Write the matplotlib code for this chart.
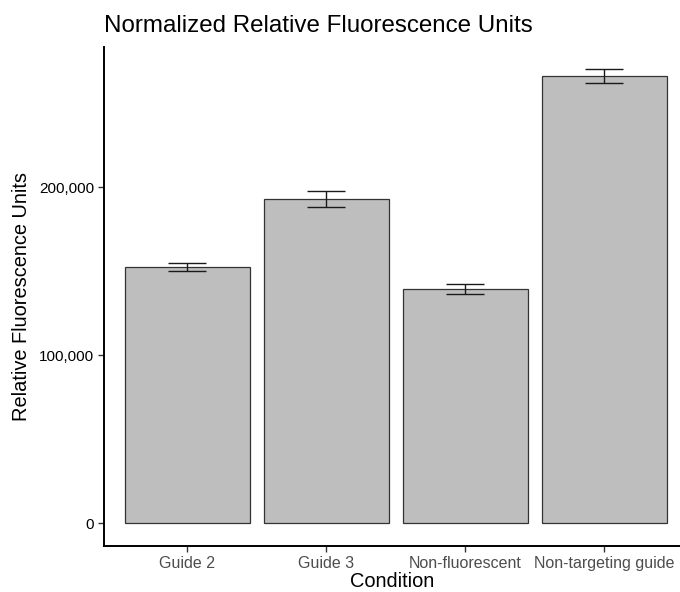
import matplotlib
matplotlib.use("Agg")
import matplotlib.pyplot as plt
from matplotlib.ticker import FuncFormatter

plt.rcParams['font.family'] = ['Liberation Sans', 'DejaVu Sans']

categories = ["Guide 2", "Guide 3", "Non-fluorescent", "Non-targeting guide"]
means = [152400, 192900, 139300, 266300]
errors = [2500, 4750, 3050, 4250]
yticks = [0, 100000, 200000]

fig = plt.figure(figsize=(6.8, 5.92), dpi=100)
ax = fig.add_axes([104/680, 1 - 546/592, (680 - 104)/680, (546 - 47)/592])

x = list(range(1, len(categories) + 1))
ax.bar(x, means, width=0.9, color="#BEBEBE", edgecolor="#333333", linewidth=0.9, zorder=2)
ax.errorbar(x, means, yerr=errors, fmt="none", ecolor="#1a1a1a", elinewidth=1.0,
            capsize=13.5, capthick=1.0, zorder=3)

ax.set_xlim(0.4, 0.4 + 576/139)
ax.set_ylim(-13500, 283500)
ax.set_xticks(x)
ax.set_xticklabels(categories)
ax.set_yticks(yticks)
ax.yaxis.set_major_formatter(FuncFormatter(lambda v, p: f"{int(v):,}"))

for s in ["top", "right"]:
    ax.spines[s].set_visible(False)
for s in ["left", "bottom"]:
    ax.spines[s].set_linewidth(1.4)
    ax.spines[s].set_color("black")
ax.tick_params(axis="both", length=4, width=1.0, color="#333333", pad=3)
ax.tick_params(axis="x", labelcolor="#4D4D4D", labelsize=11.5)
ax.tick_params(axis="y", labelcolor="black", labelsize=11)

ax.set_xlabel("Condition", fontsize=14.4, color="black", labelpad=1)
ax.set_ylabel("Relative Fluorescence Units", fontsize=14.4, color="black", labelpad=6)
ax.set_title("Normalized Relative Fluorescence Units", fontsize=17.4, loc="left", pad=11)

fig.savefig("out.png", dpi=100)
